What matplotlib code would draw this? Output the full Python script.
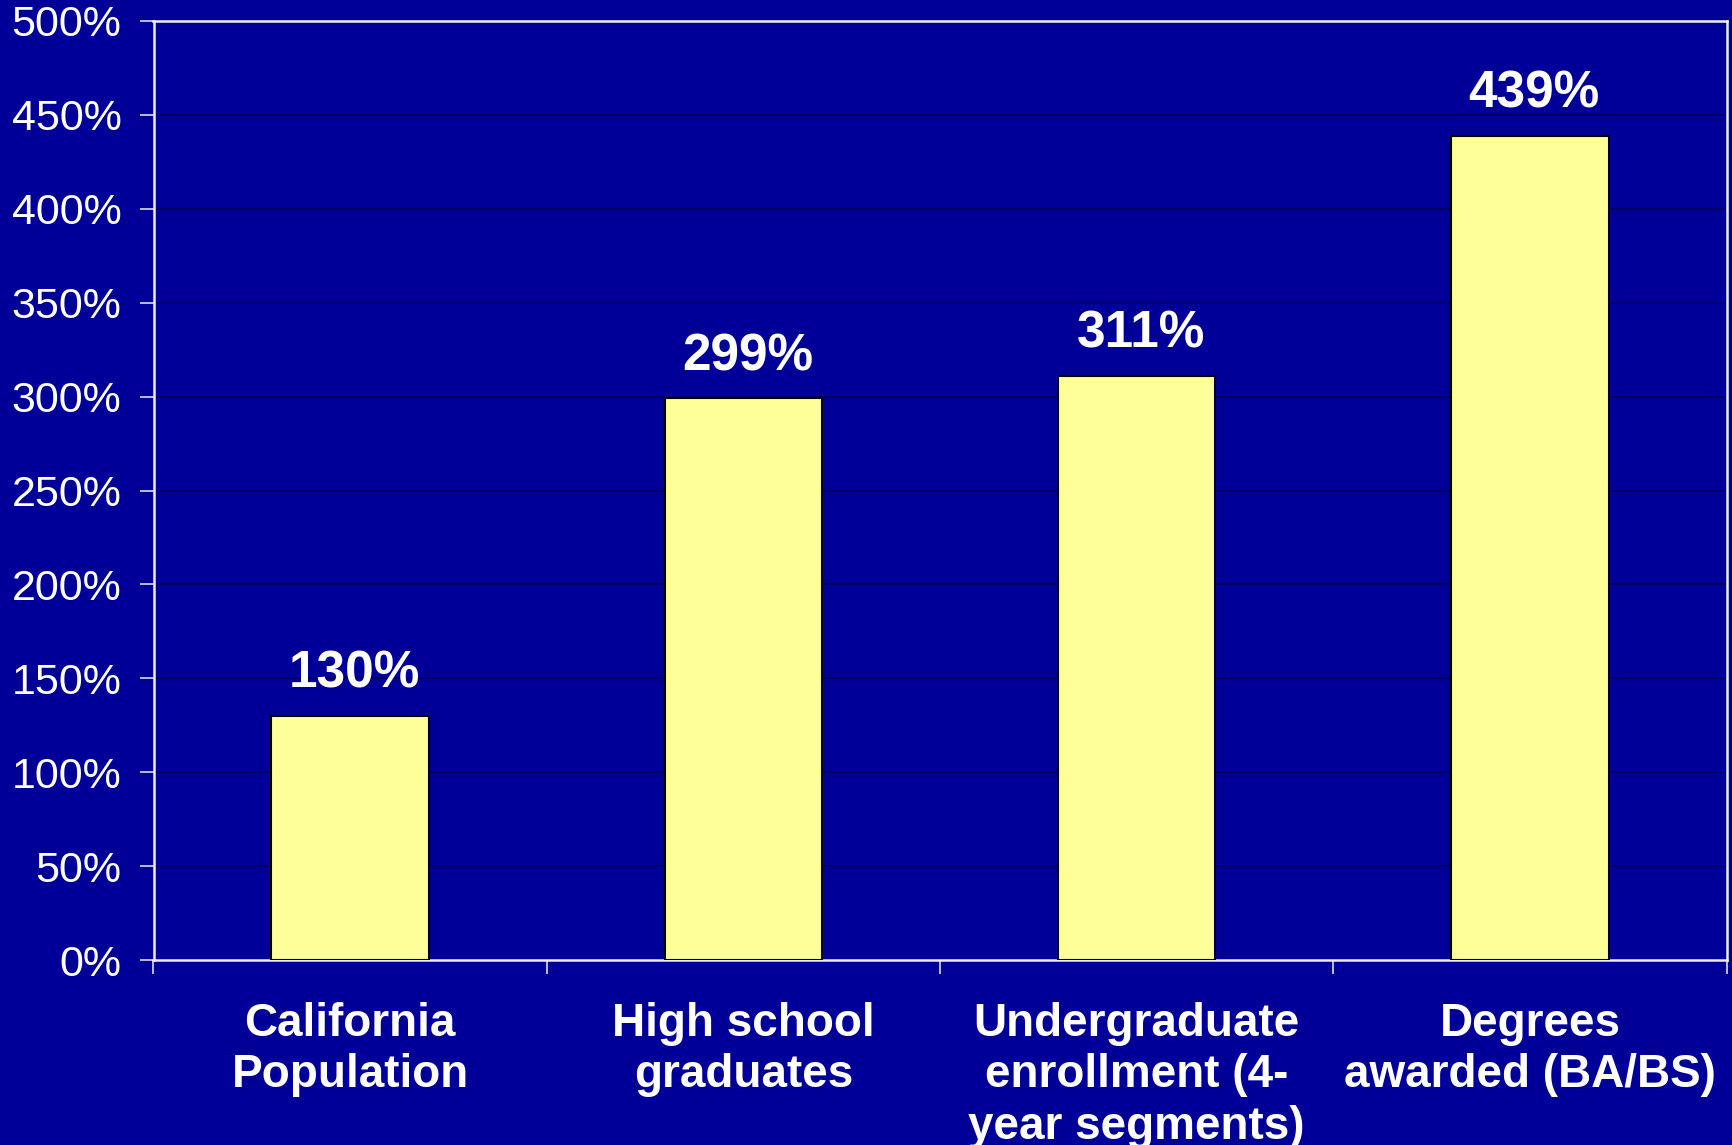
import matplotlib.pyplot as plt
import numpy as np

CATEGORIES = [
    'California\nPopulation',
    'High school\ngraduates',
    'Undergraduate\nenrollment (4-\nyear segments)',
    'Degrees\nawarded (BA/BS)',
]
VALUES = [130, 299, 311, 439]
Y_TICKS = list(range(0, 501, 50))

BG = '#000099'
BAR = '#FFFF99'

plt.rcParams['font.family'] = ['Liberation Sans', 'DejaVu Sans']

fig = plt.figure(figsize=(17.32, 11.45), dpi=100, facecolor=BG)
ax = fig.add_axes([153.5 / 1732, 1 - 960 / 1145, 1573 / 1732, 939 / 1145])
ax.set_facecolor(BG)

x = np.arange(len(VALUES))
bars = ax.bar(x, VALUES, width=0.4, color=BAR, edgecolor='black',
              linewidth=1.5, zorder=3)

for rect, val in zip(bars, VALUES):
    ax.annotate(f'{val}%', (rect.get_x() + rect.get_width() / 2, val),
                xytext=(3, 30), textcoords='offset points',
                ha='center', va='center', color='white',
                fontsize=37, fontweight='bold')

ax.set_xlim(-0.5, len(VALUES) - 0.5)
ax.set_ylim(0, 500)
ax.set_yticks(Y_TICKS)
ax.set_yticklabels([f'{t}%' for t in Y_TICKS])
ax.yaxis.grid(True, color='#00005a', linewidth=1.2, zorder=0)

ax.set_xticks(x)
ax.set_xticklabels(CATEGORIES, fontsize=33, fontweight='bold',
                   color='white', linespacing=1.22)
ax.set_xticks(np.arange(-0.5, len(VALUES)), minor=True)
ax.tick_params(axis='x', which='major', length=0, pad=30)
ax.tick_params(axis='x', which='minor', length=10, color='#dddddd',
               width=1.2)
ax.tick_params(axis='y', length=10, color='#dddddd', width=1.2,
               labelsize=31, labelcolor='white', pad=13)

for side in ['left', 'right', 'top', 'bottom']:
    ax.spines[side].set_color('#eeeeee')
    ax.spines[side].set_linewidth(1.8)

fig.savefig('out.png', dpi=100, facecolor=BG)
